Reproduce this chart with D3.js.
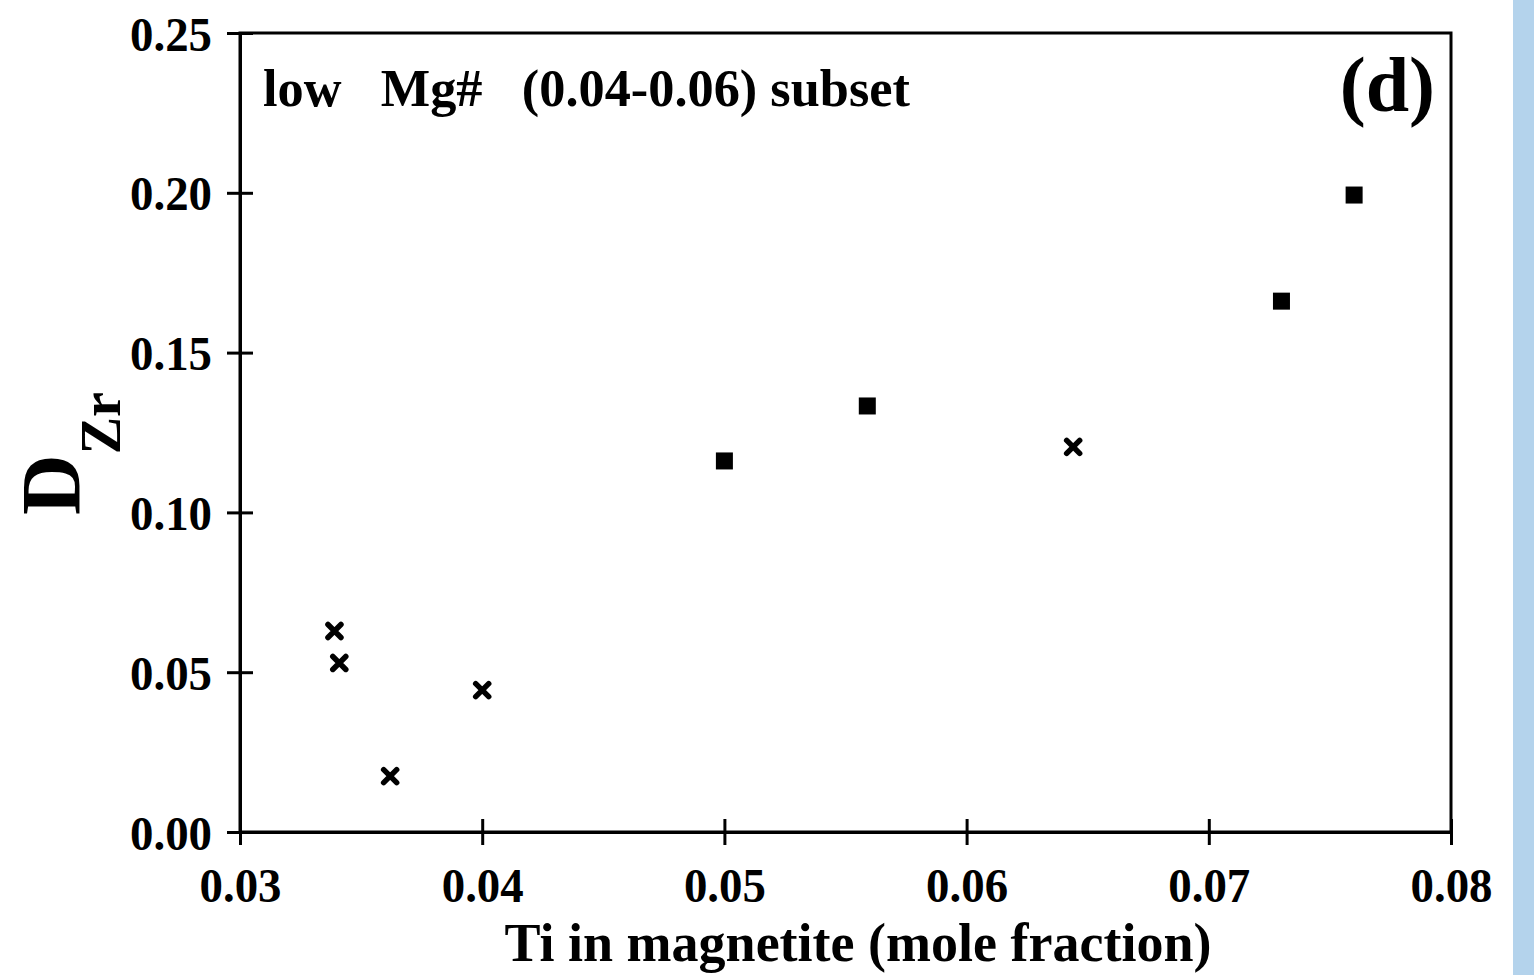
<!DOCTYPE html>
<html>
<head>
<meta charset="utf-8">
<script src="https://cdn.jsdelivr.net/npm/d3@7"></script>
<style>
  body { margin: 0; background: #fff; }
  text { font-family: "Liberation Serif", "Times New Roman", serif; font-weight: bold; fill: #000; }
</style>
</head>
<body>
<svg id="chart" width="1534" height="975"></svg>
<script>
// crosses (x) and filled squares
let crossTi = [0.0339, 0.0341, 0.0362, 0.0400, 0.0644];
let crossD = [0.0629, 0.0529, 0.0175, 0.0444, 0.1205];
let squareTi = [0.0500, 0.0559, 0.0730, 0.0760];
let squareD = [0.1161, 0.1333, 0.1661, 0.1993];
let xTicks = [0.03, 0.04, 0.05, 0.06, 0.07, 0.08];
let yTicks = [0.00, 0.05, 0.10, 0.15, 0.20, 0.25];

let svg = d3.select('#chart');
let mLeft = 240, mRight = 1451, mTop = 33, mBottom = 832;

let x = d3.scaleLinear().domain([0.03, 0.08]).range([mLeft, mRight]);
let y = d3.scaleLinear().domain([0, 0.25]).range([mBottom, mTop]);

// light blue strip at the right edge
svg.append('rect').attr('x', 1513).attr('y', 0).attr('width', 21).attr('height', 975).attr('fill', '#b4d3ec');

// frame
svg.append('rect')
    .attr('x', mLeft).attr('y', mTop)
    .attr('width', mRight - mLeft).attr('height', mBottom - mTop)
    .attr('fill', 'none').attr('stroke', '#000').attr('stroke-width', 3);

// x axis, ticks cross the line
let gx = svg.append('g').attr('transform', `translate(0,${mBottom})`)
    .call(d3.axisBottom(x).tickValues(xTicks).tickFormat(d3.format('.2f')).tickSize(13).tickSizeOuter(0));
gx.select('.domain').attr('stroke-width', 3);
gx.selectAll('.tick line').attr('y1', -13).attr('stroke-width', 3);
gx.selectAll('.tick text').attr('y', 70).attr('dy', 0);

// y axis
let gy = svg.append('g').attr('transform', `translate(${mLeft},0)`)
    .call(d3.axisLeft(y).tickValues(yTicks).tickFormat(d3.format('.2f')).tickSize(13).tickSizeOuter(0));
gy.select('.domain').attr('stroke-width', 3);
gy.selectAll('.tick line').attr('x1', 13).attr('stroke-width', 3);
gy.selectAll('.tick text').attr('x', -28).attr('dy', '0.35em');
gx.attr('font-family', null);
gy.attr('font-family', null);
svg.selectAll('.tick text').attr('fill', '#000').attr('font-size', 49)
    .attr('textLength', 82).attr('lengthAdjust', 'spacingAndGlyphs');
svg.selectAll('.domain, .tick line').attr('stroke', '#000');

// titles
svg.append('text').attr('x', 858).attr('y', 961).attr('text-anchor', 'middle')
    .attr('font-size', 54).attr('textLength', 707).attr('lengthAdjust', 'spacingAndGlyphs')
    .text('Ti in magnetite (mole fraction)');

let ylab = svg.append('text').attr('transform', 'translate(80,515) rotate(-90)');
ylab.append('tspan').attr('font-size', 84).text('D');
ylab.append('tspan').attr('font-size', 56).attr('dy', 40).text('Zr');

svg.append('text').attr('x', 263).attr('y', 106).attr('font-size', 53)
    .attr('xml:space', 'preserve').attr('textLength', 647).attr('lengthAdjust', 'spacingAndGlyphs')
    .text('low   Mg#   (0.04-0.06) subset');
svg.append('text').attr('x', 1435).attr('y', 111).attr('text-anchor', 'end')
    .attr('font-size', 78).text('(d)');

// markers
let crosses = d3.zip(crossTi, crossD);
let squares = d3.zip(squareTi, squareD);
let s = 6.5;
let cg = svg.append('g').selectAll('g').data(crosses).enter().append('g')
    .attr('transform', d => `translate(${x(d[0])},${y(d[1])})`);
cg.append('path')
    .attr('d', `M${-s},${-s}L${s},${s}M${-s},${s}L${s},${-s}`)
    .attr('stroke', '#000').attr('stroke-width', 5.5).attr('stroke-linecap', 'round');

svg.append('g').selectAll('rect').data(squares).enter().append('rect')
    .attr('x', d => x(d[0]) - 8.5).attr('y', d => y(d[1]) - 8.5)
    .attr('width', 17).attr('height', 17).attr('fill', '#000');
</script>
</body>
</html>
